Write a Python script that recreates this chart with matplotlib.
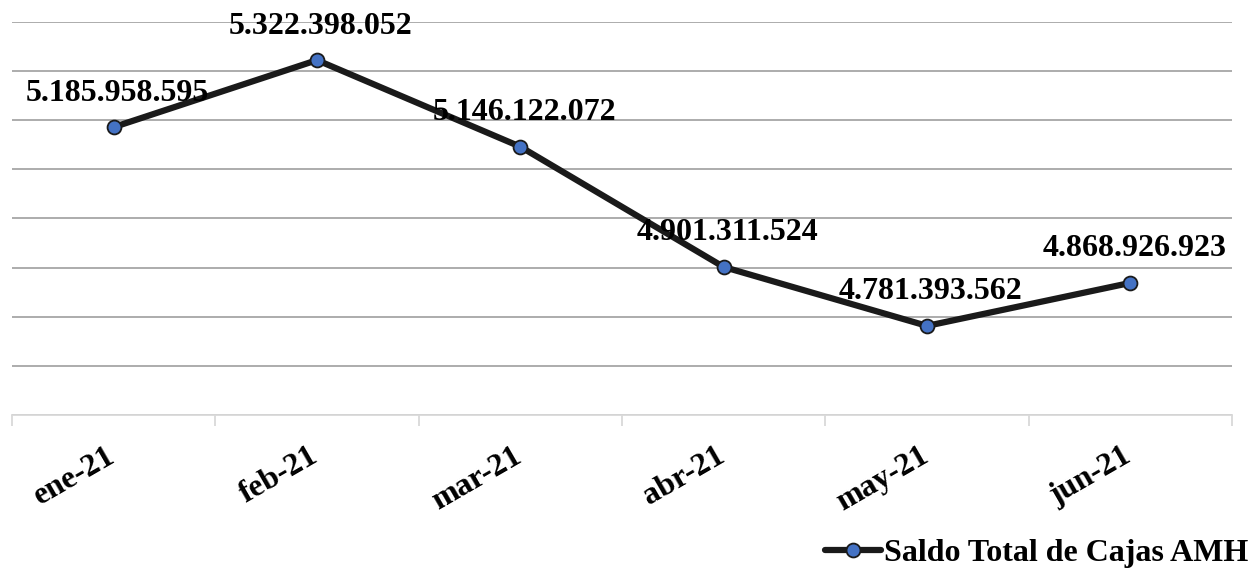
import matplotlib
matplotlib.use("Agg")
import matplotlib.pyplot as plt
import matplotlib.transforms as mtransforms
from matplotlib.ticker import FixedLocator, MultipleLocator

months = ["ene-21", "feb-21", "mar-21", "abr-21", "may-21", "jun-21"]
saldo = [5185958595, 5322398052, 5146122072, 4901311524, 4781393562, 4868926923]
series_name = "Saldo Total de Cajas AMH"

plt.rcParams['font.family'] = ['Liberation Serif', 'DejaVu Serif']

fig = plt.figure(figsize=(12.53, 5.76), dpi=100)
ax = fig.add_axes([12/1253, 1 - 415/576, 1220/1253, (415-22)/576])

x = list(range(len(months)))
ax.plot(x, saldo, color="#1a1a1a", lw=4.5, marker="o", markersize=10,
        markerfacecolor="#4472C4", markeredgecolor="#1a1a1a", markeredgewidth=1.3,
        label=series_name, zorder=3, solid_capstyle="round")

def fmt(v):
    return f"{v:,}".replace(",", ".")

for xi, v in zip(x, saldo):
    ax.annotate(fmt(v), (xi, v), xytext=(4, 34), textcoords="offset pixels",
                ha="center", va="center", fontsize=23, fontweight="bold", zorder=4)

ax.set_xlim(-0.5, len(months) - 0.5)
ax.set_ylim(4.6e9, 5.4e9)
ax.yaxis.set_major_locator(MultipleLocator(1e8))
ax.grid(axis="y", color="#a6a6a6", lw=1.3)
ax.set_axisbelow(True)
ax.tick_params(axis="y", left=False, labelleft=False)
for s in ["top", "right", "left"]:
    ax.spines[s].set_visible(False)
ax.spines["bottom"].set_color("#d9d9d9")
ax.spines["bottom"].set_linewidth(1.3)

ax.set_xticks(x)
ax.set_xticklabels(months, rotation=30, ha="right", va="center", rotation_mode="anchor",
                   fontsize=23, fontweight="bold")
ax.tick_params(axis="x", which="major", length=0, pad=28)
offset = mtransforms.ScaledTranslation(-1/100, 0, fig.dpi_scale_trans)
for lab in ax.get_xticklabels():
    lab.set_transform(lab.get_transform() + offset)
ax.xaxis.set_minor_locator(FixedLocator([i - 0.5 for i in range(len(months) + 1)]))
ax.tick_params(axis="x", which="minor", length=8, color="#d9d9d9", width=1.3)

leg = fig.legend(loc="center right", bbox_to_anchor=(1.0 + 10/1253, 1 - 553/576), frameon=False,
                 prop={"size": 23, "weight": "bold"}, handlelength=1.75, handletextpad=0.1,
                 borderaxespad=0.05)

fig.savefig("out.png", dpi=100)
